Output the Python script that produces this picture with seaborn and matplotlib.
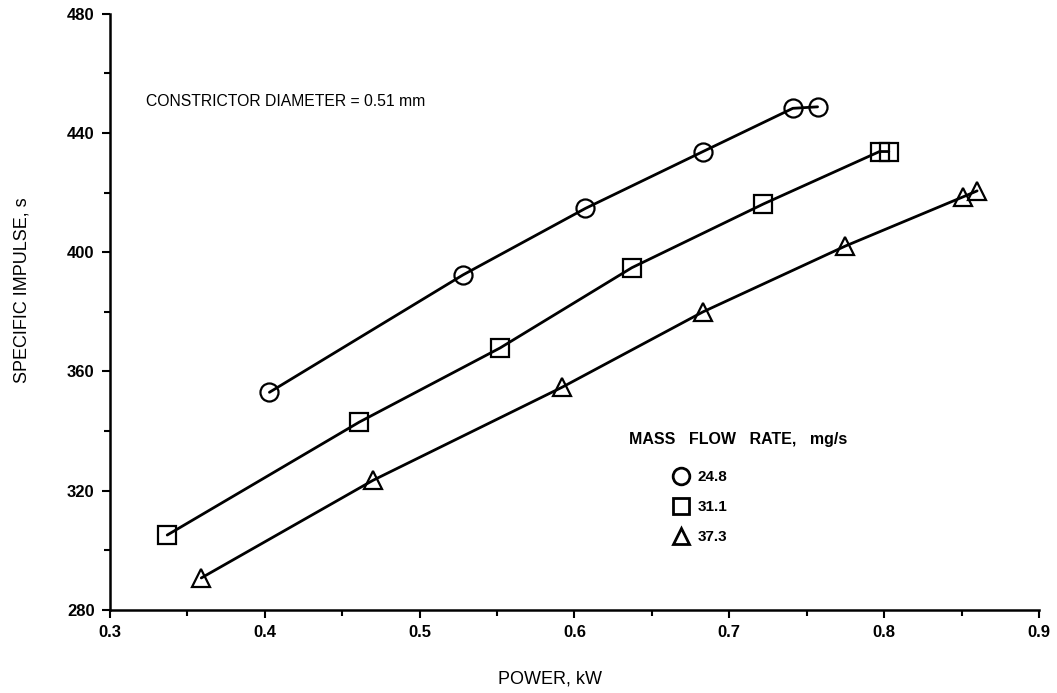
import numpy as np
import pandas as pd
import seaborn as sns
import matplotlib.pyplot as plt
from matplotlib.lines import Line2D
from matplotlib.ticker import MultipleLocator

sns.set_style('ticks', {'axes.edgecolor': 'black', 'text.color': 'black',
                        'axes.labelcolor': 'black', 'xtick.color': 'black', 'ytick.color': 'black'})
plt.rcParams['font.family'] = ['Liberation Sans', 'DejaVu Sans']

# values
rates = ['24.8', '31.1', '37.3']
power_248 = [0.403, 0.528, 0.607, 0.683, 0.741, 0.757]
isp_248 = [353.0, 392.4, 414.7, 433.8, 448.3, 448.8]
power_311 = [0.337, 0.461, 0.552, 0.637, 0.722, 0.797, 0.803]
isp_311 = [305.1, 343.0, 367.9, 394.8, 416.2, 433.8, 433.8]
power_373 = [0.359, 0.470, 0.592, 0.683, 0.775, 0.851, 0.860]
isp_373 = [290.7, 323.5, 354.7, 380.0, 402.1, 418.6, 420.6]
marker_list = ['o', 's', '^']

frames = []
for r, p, s in zip(rates, [power_248, power_311, power_373], [isp_248, isp_311, isp_373]):
    frames.append(pd.DataFrame({'power': p, 'isp': s, 'rate': r}))
df = pd.concat(frames, ignore_index=True)

fig = plt.figure(figsize=(10.57, 6.93), dpi=100)
ax = fig.add_axes([0.104, 0.120, 0.879, 0.860])

sns.lineplot(data=df, x='power', y='isp', style='rate', markers=marker_list, dashes=False,
             color='black', linewidth=2, markersize=13, markeredgewidth=1.6,
             markerfacecolor='none', markeredgecolor='black', legend=False, sort=False, ax=ax)

ax.set_xlim(0.3, 0.9)
ax.set_ylim(280, 480)
ax.xaxis.set_minor_locator(MultipleLocator(0.05))
ax.yaxis.set_major_locator(MultipleLocator(40))
ax.yaxis.set_minor_locator(MultipleLocator(20))
ax.set_xticks(np.arange(0.3, 0.91, 0.1))
ax.set_xticklabels(['0.3', '0.4', '0.5', '0.6', '0.7', '0.8', '0.9'])
ax.tick_params(which='major', length=6, width=1.5, labelsize=12, pad=5)
ax.tick_params(which='minor', length=4, width=1.5)
for lbl in ax.get_xticklabels() + ax.get_yticklabels():
    lbl.set_fontweight('bold')
sns.despine(ax=ax)
for sp in ['left', 'bottom']:
    ax.spines[sp].set_linewidth(1.8)

ax.set_xlabel('POWER, kW', fontsize=13)
ax.set_ylabel('SPECIFIC IMPULSE, s', fontsize=13)
ax.xaxis.set_label_coords(0.474, -0.102)
ax.yaxis.set_label_coords(-0.086, 0.537)

ax.text(0.323, 450.6, 'CONSTRICTOR DIAMETER = 0.51 mm', fontsize=11.3, va='center', ha='left')

# legend
ax.text(0.6355, 337.3, 'MASS   FLOW   RATE,   mg/s', fontsize=11.5, fontweight='bold', va='center', ha='left')
handles = [Line2D([], [], linestyle='none', marker=m, markersize=12, markerfacecolor='none',
                  markeredgecolor='black', markeredgewidth=2) for m in marker_list]
leg = ax.legend(handles, rates, loc='upper left', bbox_to_anchor=(0.598, 0.247), frameon=False,
                handlelength=1.0, handletextpad=0.6, labelspacing=1.05, borderpad=0,
                prop={'weight': 'bold', 'size': 11})

fig.savefig('out.png', dpi=100)
